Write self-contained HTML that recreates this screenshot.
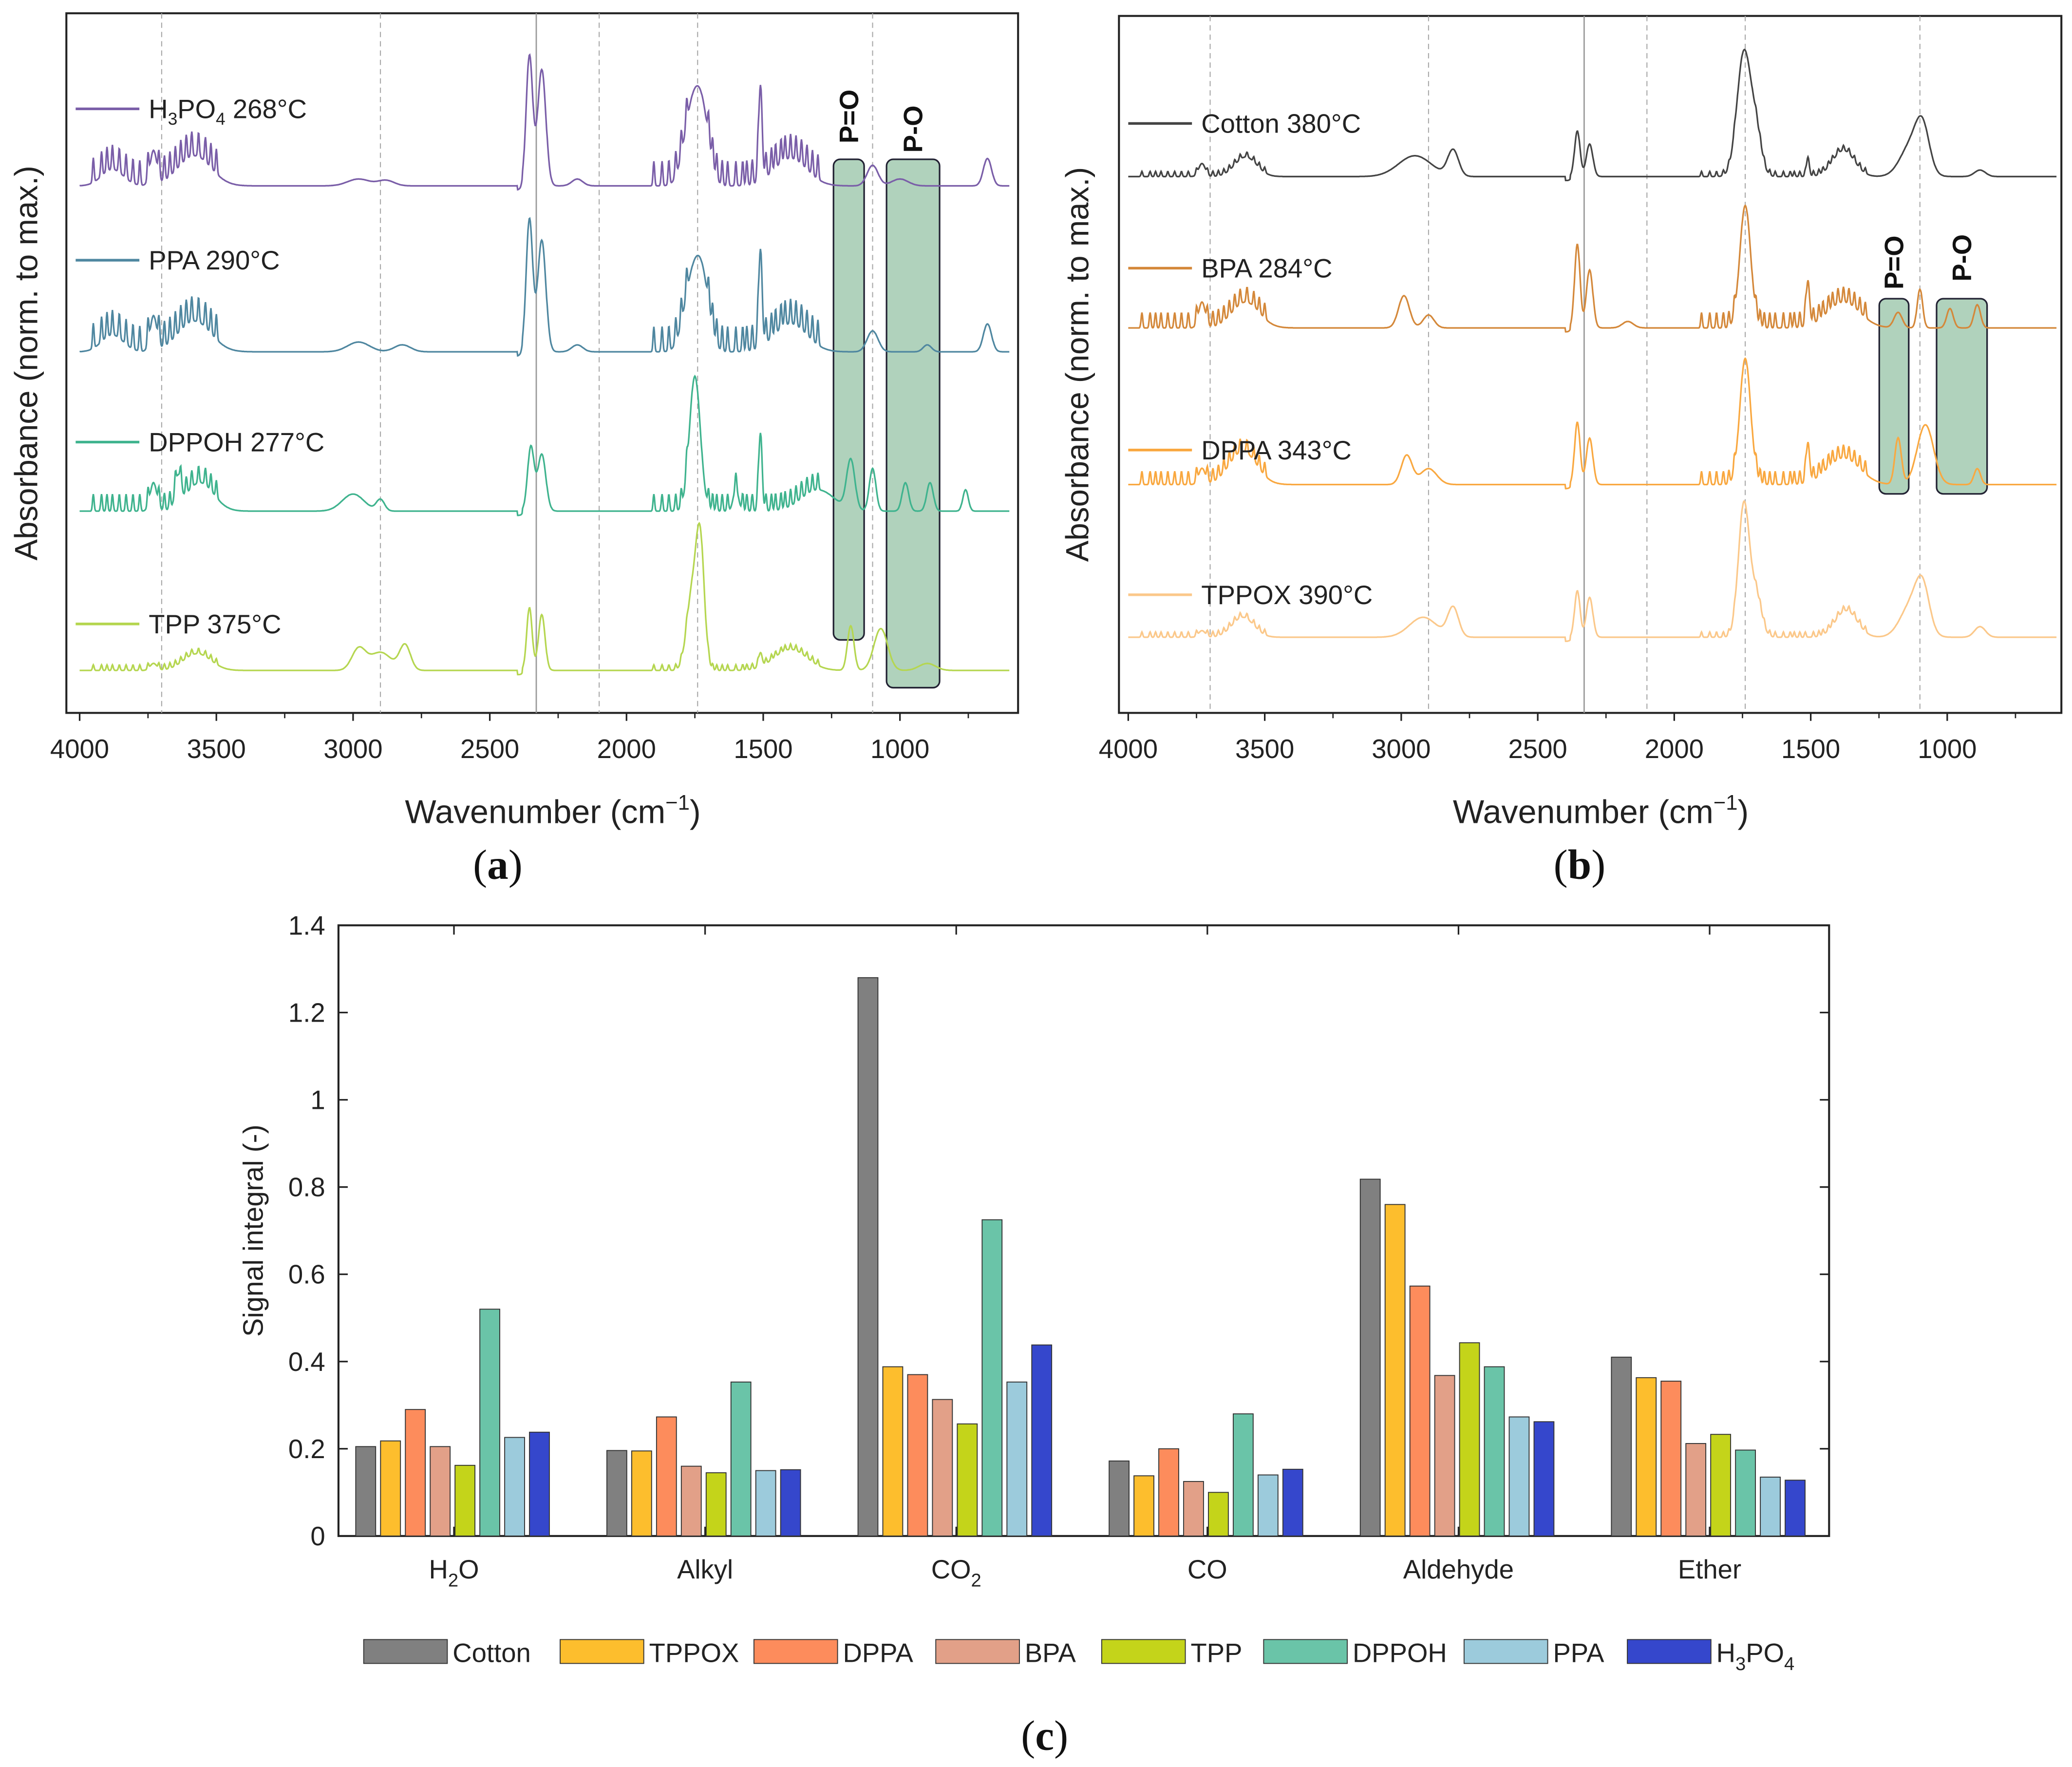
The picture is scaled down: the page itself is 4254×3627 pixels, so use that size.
<!DOCTYPE html>
<html><head><meta charset="utf-8"><style>
html,body{margin:0;padding:0;background:#fff;}
svg{display:block;font-family:"Liberation Sans",Arial,sans-serif;}
</style></head><body>
<svg id="fig" width="4254" height="3627" viewBox="0 0 1561 1331" preserveAspectRatio="none" xmlns="http://www.w3.org/2000/svg">
<rect x="0" y="0" width="1561" height="1331" fill="#fff"/>
<g id="pa"></g>
<g id="pb"></g>
<g id="pc"></g>
</svg>
<script>
// ---- Spectra data (peaks: [wavenumber, height, width]) ----
const waterLines = [3950,3920,3900,3880,3855,3830,3805,3780,3750,3710,3690,3670,3650,3630,3610,3590,3565,3540,3520,3500,1900,1870,1845,1820,1800,1780,1700,1685,1670,1650,1630,1600,1575,1560,1540,1520,1490,1470,1455,1435,1420,1400,1380,1360,1340,1320,1300];
const h3po4Peaks = [[3880,0.12,40],[3730,0.25,12],[3580,0.22,60],[2980,0.05,40],[2880,0.04,30],[2355,0.95,12],[2310,0.85,15],[2180,0.05,20],[1760,0.55,30],[1720,0.4,25],[1510,0.7,6],[1400,0.2,60],[1100,0.15,20],[1000,0.05,30],[680,0.2,15]];
const ppaPeaks = [[3880,0.12,40],[3730,0.25,12],[3580,0.22,60],[2980,0.07,40],[2820,0.05,30],[2355,0.95,12],[2310,0.8,15],[2180,0.05,20],[1760,0.5,30],[1720,0.4,25],[1510,0.7,6],[1400,0.2,60],[1100,0.15,20],[900,0.05,15],[680,0.2,15]];
const dppohPeaks = [[3730,0.2,12],[3640,0.2,10],[3560,0.2,50],[3000,0.12,40],[2900,0.08,15],[2350,0.45,12],[2310,0.4,15],[1750,0.95,20],[1600,0.15,10],[1510,0.55,6],[1300,0.15,60],[1180,0.35,15],[1100,0.3,12],[980,0.2,12],[890,0.2,12],[760,0.15,10]];
const tppPeaks = [[3730,0.05,12],[3570,0.12,50],[2980,0.15,25],[2900,0.13,40],[2810,0.18,20],[2355,0.45,10],[2310,0.4,12],[1760,0.55,20],[1730,0.85,15],[1510,0.1,6],[1400,0.15,60],[1180,0.32,12],[1070,0.3,25],[900,0.05,30]];
const cottonPeaks = [[3730,0.1,12],[3570,0.15,40],[2950,0.16,60],[2810,0.2,20],[2355,0.35,10],[2310,0.25,12],[1745,0.95,25],[1700,0.3,20],[1510,0.15,5],[1380,0.2,40],[1130,0.25,40],[1090,0.3,25],[880,0.05,20]];
const bpaPeaks = [[3730,0.2,12],[3570,0.2,50],[2990,0.25,20],[2900,0.1,20],[2355,0.65,10],[2310,0.45,12],[2170,0.05,20],[1740,0.95,20],[1510,0.35,6],[1380,0.2,60],[1180,0.12,15],[1100,0.3,10],[990,0.15,12],[890,0.18,12]];
const dppaPeaks = [[3730,0.12,12],[3580,0.25,50],[2980,0.22,20],[2900,0.12,30],[2355,0.47,10],[2310,0.35,12],[1740,0.95,20],[1510,0.3,6],[1380,0.2,60],[1180,0.35,12],[1080,0.45,30],[890,0.12,12]];
const tppoxPeaks = [[3730,0.05,12],[3580,0.15,40],[2920,0.15,50],[2810,0.22,20],[2355,0.35,10],[2310,0.3,12],[1745,1.0,20],[1700,0.3,20],[1370,0.2,40],[1130,0.25,40],[1090,0.3,25],[880,0.08,20]];
const specA = [
 {name:'H3PO4 268°C', label:['H','3','PO','4',' 268°C'], peaks:h3po4Peaks, water:0.18, color:'#7a5ea8', base:140, top:37, ly:82},
 {name:'PPA 290°C', label:['PPA 290°C'], peaks:ppaPeaks, water:0.18, color:'#4f87a0', base:265, top:160, ly:196},
 {name:'DPPOH 277°C', label:['DPPOH 277°C'], peaks:dppohPeaks, water:0.12, color:'#3fb38e', base:385, top:278, ly:333},
 {name:'TPP 375°C', label:['TPP 375°C'], peaks:tppPeaks, water:0.04, color:'#b5d650', base:505, top:400, ly:470}];
const specB = [
 {name:'Cotton 380°C', label:['Cotton 380°C'], peaks:cottonPeaks, water:0.04, color:'#444', base:133, top:35, ly:93},
 {name:'BPA 284°C', label:['BPA 284°C'], peaks:bpaPeaks, water:0.12, color:'#d4883a', base:247, top:150, ly:202},
 {name:'DPPA 343°C', label:['DPPA 343°C'], peaks:dppaPeaks, water:0.1, color:'#f9a840', base:365, top:265, ly:339},
 {name:'TPPOX 390°C', label:['TPPOX 390°C'], peaks:tppoxPeaks, water:0.04, color:'#fbc88a', base:480, top:380, ly:448}];
const xTicks = [4000,3500,3000,2500,2000,1500,1000];
const dashLines = [3700,2900,2100,1740,1100];
const solidLine = 2330;
// ---- Bar data ----
const categories = ['H2O','Alkyl','CO2','CO','Aldehyde','Ether'];
const seriesNames = ['Cotton','TPPOX','DPPA','BPA','TPP','DPPOH','PPA','H3PO4'];
const seriesColors = ['#808080','#fdbe2d','#fd8c5c','#e2a088','#c4d41a','#6ac4a8','#9ccbdc','#3547cc'];
const cottonVals = [0.205,0.196,1.28,0.172,0.818,0.41];
const tppoxVals = [0.218,0.195,0.388,0.138,0.76,0.363];
const dppaVals = [0.29,0.273,0.37,0.2,0.573,0.355];
const bpaVals = [0.205,0.16,0.313,0.125,0.368,0.212];
const tppVals = [0.162,0.145,0.257,0.1,0.443,0.233];
const dppohVals = [0.52,0.353,0.725,0.28,0.388,0.197];
const ppaVals = [0.226,0.15,0.353,0.14,0.273,0.135];
const h3po4Vals = [0.238,0.152,0.438,0.153,0.262,0.128];
const yTicks = [0,0.2,0.4,0.6,0.8,1,1.2,1.4];
const yTickLabels = ['0','0.2','0.4','0.6','0.8','1','1.2','1.4'];

const NS='http://www.w3.org/2000/svg';
function mk(tag,parent,attrs){const e=document.createElementNS(NS,tag);for(const k in attrs)e.setAttribute(k,attrs[k]);parent.appendChild(e);return e;}

function spectrumPanel(g, specs, x0, x1, y0, y1, x4000, x1000, boxes, yTitleX){
  const sx = w => x4000 + (4000-w)*(x1000-x4000)/3000;
  const fr = mk('rect',g,{x:x0,y:y0,width:x1-x0,height:y1-y0,fill:'none',stroke:'#222','stroke-width':1.5});
   
  dashLines.forEach(w=>{const l=mk('line',g,{x1:sx(w),x2:sx(w),y1:y0,y2:y1,stroke:'#aaa','stroke-width':0.8,'stroke-dasharray':'4,3'});
     });
  const sl=mk('line',g,{x1:sx(solidLine),x2:sx(solidLine),y1:y0,y2:y1,stroke:'#999','stroke-width':1});
   
  boxes.forEach(b=>{
    const r=mk('rect',g,{x:sx(b.w0),y:b.y0,width:sx(b.w1)-sx(b.w0),height:b.y1-b.y0,rx:5,fill:'#8fbf9f','fill-opacity':0.7,stroke:'#223','stroke-width':1.2});
     
    const t=mk('text',g,{x:0,y:0,transform:`translate(${(sx(b.w0)+sx(b.w1))/2+7},${b.ty}) rotate(-90)`,'font-size':20,'font-weight':'bold',fill:'#111'});
    t.textContent=b.label;  
  });
  specs.forEach(s=>{
    let d='';
    for(let w=4000; w>=600; w-=2){
      let h=0;
      s.peaks.forEach(p=>{h+=p[1]*Math.exp(-0.5*((w-p[0])/p[2])**2);});
      waterLines.forEach(c=>{h+=s.water*Math.exp(-0.5*((w-c)/3)**2);});
      if(w>2380 && w<2400) h-=0.03;
      const y=s.base-h*(s.base-s.top);
      d+=(d?'L':'M')+sx(w).toFixed(1)+','+y.toFixed(1);
    }
    const p=mk('path',g,{d:d,fill:'none',stroke:s.color,'stroke-width':1.2});
     
    const ll=mk('line',g,{x1:x0+7,x2:x0+55,y1:s.ly,y2:s.ly,stroke:s.color,'stroke-width':2});
     
    const t=mk('text',g,{x:x0+62,y:s.ly+7,'font-size':20,fill:'#222'});
     
    s.label.forEach((part,i)=>{const ts=mk('tspan',t,{});ts.textContent=part;
      if(s.label.length>1 && (i===1||i===3)){ts.setAttribute('font-size',13);ts.setAttribute('dy',5);} else if(s.label.length>1 && i>0){ts.setAttribute('dy',-5);}});
  });
  xTicks.forEach(w=>{
    const tl=mk('line',g,{x1:sx(w),x2:sx(w),y1:y1,y2:y1+6,stroke:'#222','stroke-width':1.2});
     
    const t=mk('text',g,{x:sx(w),y:y1+34,'font-size':20,'text-anchor':'middle',fill:'#222'});
    t.textContent=w;  
  });
  for(let w=3750; w>=750; w-=500){mk('line',g,{x1:sx(w),x2:sx(w),y1:y1,y2:y1+4,stroke:'#222','stroke-width':1});}
  const xt=mk('text',g,{x:(x0+x1)/2+8,y:y1+83,'font-size':25,'text-anchor':'middle',fill:'#222'});
  xt.innerHTML='Wavenumber (cm<tspan font-size="16" dy="-10">−1</tspan><tspan dy="10">)</tspan>';
   
  const yt=mk('text',g,{x:0,y:0,transform:`translate(${yTitleX},${(y0+y1)/2}) rotate(-90)`,'font-size':24,'text-anchor':'middle',fill:'#222'});
  yt.textContent='Absorbance (norm. to max.)';  
}
const pa=document.getElementById('pa'), pb=document.getElementById('pb'), pc=document.getElementById('pc');
spectrumPanel(pa,specA,50,767,10,537,60,678,[{w0:1243,w1:1131,y0:120,y1:482,label:'P=O',ty:108},{w0:1049,w1:855,y0:120,y1:518,label:'P-O',ty:115}],28);
spectrumPanel(pb,specB,843,1553,12,537,850,1467,[{w0:1249,w1:1141,y0:225,y1:372,label:'P=O',ty:218},{w0:1039,w1:854,y0:225,y1:372,label:'P-O',ty:212}],820);
function caption(g,x,y,l){const t=mk('text',g,{x:x,y:y,'font-size':32,'text-anchor':'middle','font-family':'Liberation Serif, serif',fill:'#111'});
  t.innerHTML='(<tspan font-weight="bold">'+l+'</tspan>)';  }
caption(pa,375,662,'a'); caption(pb,1190,662,'b');

// ---- Bar chart ----
const bx0=255,bx1=1378,by0=697,by1=1157;
const yS=v=>by1-v*(by1-by0)/1.4;
const catX=i=>342+i*189.2;
const allVals=[cottonVals,tppoxVals,dppaVals,bpaVals,tppVals,dppohVals,ppaVals,h3po4Vals];
const cf=mk('rect',pc,{x:bx0,y:by0,width:bx1-bx0,height:by1-by0,fill:'none',stroke:'#222','stroke-width':1.5});
 
yTicks.forEach((v,i)=>{
  mk('line',pc,{x1:bx0,x2:bx0+7,y1:yS(v),y2:yS(v),stroke:'#222','stroke-width':1.2});
  mk('line',pc,{x1:bx1,x2:bx1-7,y1:yS(v),y2:yS(v),stroke:'#222','stroke-width':1.2});
  const t=mk('text',pc,{x:bx0-10,y:yS(v)+7,'font-size':20,'text-anchor':'end',fill:'#222'});
  t.textContent=yTickLabels[i];  
});
categories.forEach((c,ci)=>{
  const cx=catX(ci);
  mk('line',pc,{x1:cx,x2:cx,y1:by0,y2:by0+7,stroke:'#222','stroke-width':1.2});
  mk('line',pc,{x1:cx,x2:cx,y1:by1,y2:by1-7,stroke:'#222','stroke-width':1.2});
  allVals.forEach((arr,si)=>{
    const x=cx-74+si*18.7, v=arr[ci];
    const r=mk('rect',pc,{x:x,y:yS(v),width:15,height:by1-yS(v),fill:seriesColors[si],stroke:'#333','stroke-width':0.7});
    
    
  });
  const t=mk('text',pc,{x:cx,y:1189,'font-size':20,'text-anchor':'middle',fill:'#222'});
  if(c==='H2O') t.innerHTML='H<tspan font-size="14" dy="6">2</tspan><tspan dy="-6">O</tspan>';
  else if(c==='CO2') t.innerHTML='CO<tspan font-size="14" dy="6">2</tspan>';
  else t.textContent=c;
   
});
const cyt=mk('text',pc,{x:0,y:0,transform:'translate(198,927) rotate(-90)','font-size':21,'text-anchor':'middle',fill:'#222'});
cyt.textContent='Signal integral (-)';  
const legX=[274,422,568,705,830,952,1103,1226];
seriesNames.forEach((n,i)=>{
  const r=mk('rect',pc,{x:legX[i],y:1235,width:63,height:18,fill:seriesColors[i],stroke:'#333','stroke-width':0.7});
   
  const t=mk('text',pc,{x:legX[i]+67,y:1252,'font-size':20,fill:'#222'});
  if(n==='H3PO4') t.innerHTML='H<tspan font-size="14" dy="6">3</tspan><tspan dy="-6">PO</tspan><tspan font-size="14" dy="6">4</tspan>';
  else t.textContent=n;
   
});
caption(pc,787,1318,'c');
</script>
</body></html>
